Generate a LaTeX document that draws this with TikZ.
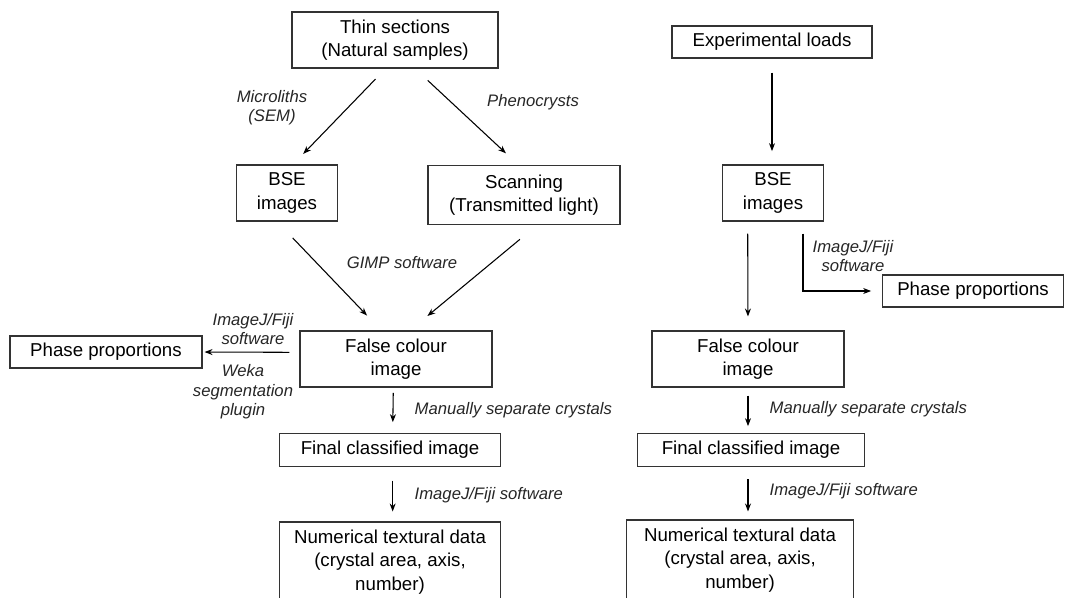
\documentclass[tikz,border=0pt]{standalone}
\usepackage{fontspec}
\setmainfont{Liberation Sans}
\usetikzlibrary{arrows.meta}

\tikzset{
    box/.style={draw=black!80, line width=0.8pt, align=center, inner sep=0pt,
        font=\fontsize{14}{17.5}\selectfont},
    note/.style={align=center, text=black!85,
        font=\fontsize{12.5}{14.5}\selectfont\itshape},
    arr/.style={-{Stealth[length=6pt, width=4.5pt]}, line width=0.8pt},
}

\begin{document}
\begin{tikzpicture}[x=0.75pt, y=-0.75pt]
    \useasboundingbox (0,0) rectangle (1067,597);

    % Nodes (natural samples)
    \node[box, minimum width=154.5pt, minimum height=42pt] (thin) at (395,40) {Thin sections\\(Natural samples)};
    \node[box, minimum width=76pt, minimum height=42pt] (bseL) at (287,193) {BSE\\images};
    \node[box, minimum width=144pt, minimum height=44pt] (scan) at (524,195) {Scanning\\(Transmitted light)};
    \node[box, minimum width=144pt, minimum height=42pt] (fcL) at (396,359) {False colour\\image};
    \node[box, minimum width=144pt, minimum height=24pt] (phaseL) at (106,352) {Phase proportions};
    \node[box, minimum width=166pt, minimum height=25pt] (finL) at (390,450) {Final classified image};
    \node[box, minimum width=166pt, minimum height=60pt] (numL) at (390,562) {Numerical textural data\\(crystal area, axis,\\number)};

    % Nodes (experimental loads)
    \node[box, minimum width=150pt, minimum height=24pt] (loads) at (772,42) {Experimental loads};
    \node[box, minimum width=76pt, minimum height=42pt] (bseR) at (773,193) {BSE\\images};
    \node[box, minimum width=136pt, minimum height=24pt] (phaseR) at (973,291) {Phase proportions};
    \node[box, minimum width=144pt, minimum height=42pt] (fcR) at (748,359) {False colour\\image};
    \node[box, minimum width=170pt, minimum height=25pt] (finR) at (751,450) {Final classified image};
    \node[box, minimum width=170pt, minimum height=60pt] (numR) at (740,560) {Numerical textural data\\(crystal area, axis,\\number)};

    % Labels
    \node[note] (microliths) at (272,108) {Microliths\\(SEM)};
    \node[note] (pheno) at (533,102) {Phenocrysts};
    \node[note] (gimp) at (402,263) {GIMP software};
    \node[note] (fijiL) at (253,329) {ImageJ/Fiji\\software};
    \node[note] (weka) at (243,392) {Weka\\segmentation\\plugin};
    \node[note, anchor=west] (sepL) at (410,410) {Manually separate crystals};
    \node[note, anchor=west] (texL) at (410,495) {ImageJ/Fiji software};
    \node[note] (fijiR) at (853,256) {ImageJ/Fiji\\software};
    \node[note, anchor=west] (sepR) at (765,409) {Manually separate crystals};
    \node[note, anchor=west] (texR) at (765,491) {ImageJ/Fiji software};

    % Edges (natural samples)
    \draw[arr, shorten <=11pt, shorten >=11pt] ([xshift=-7pt]thin.south) -- ([xshift=4.5pt]bseL.north);
    \draw[arr, shorten <=13pt, shorten >=13pt] ([xshift=15pt]thin.south) -- ([xshift=-4pt]scan.north);
    \draw[arr, shorten <=17pt, shorten >=15.5pt] ([xshift=-7.5pt]bseL.south) -- ([xshift=-11pt]fcL.north);
    \draw[arr, shorten <=17pt, shorten >=17pt] ([xshift=10pt]scan.south) -- ([xshift=10.5pt]fcL.north);
    \draw[arr, shorten <=7.5pt, shorten >=1.5pt] ([yshift=5pt]fcL.west) -- (phaseL.east);
    \draw[arr, shorten <=4pt, shorten >=8pt] ([xshift=-2pt]fcL.south) -- ([xshift=2pt]finL.north);
    \draw[arr, shorten <=10pt, shorten >=7.5pt] ([xshift=2pt]finL.south) -- ([xshift=2pt]numL.north);

    % Edges (experimental loads)
    \draw[arr, shorten <=10.5pt, shorten >=10pt] (loads.south) -- (loads.south |- bseR.north);
    \draw[arr, shorten <=9pt, shorten >=10.5pt] ([xshift=-19pt]bseR.south) -- (fcR.north);
    \draw[arr, shorten <=9pt, shorten >=8pt] ([xshift=22.5pt]bseR.south) |- (phaseR.west);
    \draw[arr, shorten <=6pt, shorten >=5pt] (fcR.south) -- (fcR.south |- finR.north);
    \draw[arr, shorten <=9pt, shorten >=6pt] (fcR.south |- finR.south) -- (fcR.south |- numR.north);
\end{tikzpicture}
\end{document}
